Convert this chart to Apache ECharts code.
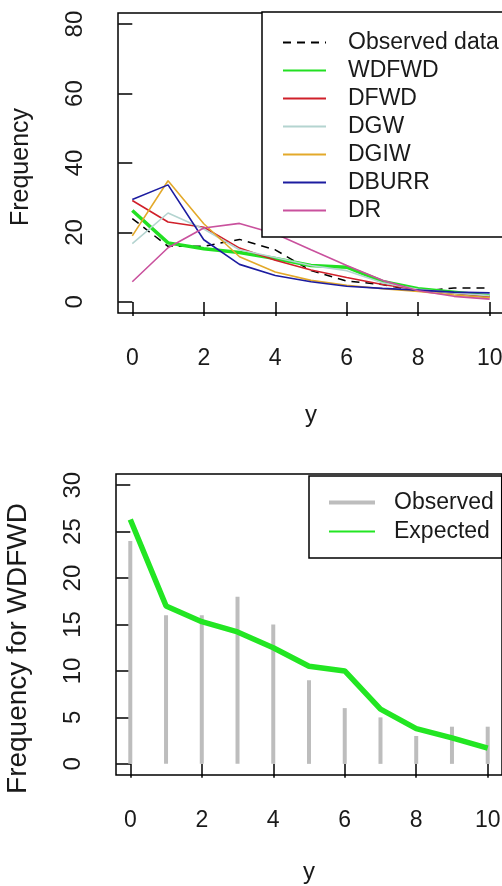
<!DOCTYPE html>
<html>
<head>
<meta charset="utf-8">
<script src="https://cdn.jsdelivr.net/npm/echarts@6/dist/echarts.min.js"></script>
<style>
html,body{margin:0;padding:0;background:#fff;}
#chart{width:502px;height:886px;}
</style>
</head>
<body>
<div id="chart"></div>
<script>
// ---- data ----
const yValues = [0,1,2,3,4,5,6,7,8,9,10];
const observed = [24,16,16,18,15,9,6,5,3,4,4];
const WDFWD = [26.3,17.0,15.3,14.2,12.5,10.5,10.0,5.9,3.8,2.8,1.7];
const DFWD  = [29.2,23.0,21.5,15.5,12.0,9.2,7.0,5.0,3.5,2.5,1.6];
const DGW   = [16.8,25.6,21.0,15.0,12.8,10.5,9.0,5.5,3.6,2.6,1.8];
const DGIW  = [19.0,34.9,22.5,13.0,8.6,6.2,4.8,3.8,3.0,2.0,1.2];
const DBURR = [29.5,33.7,17.9,10.8,7.6,5.8,4.5,3.9,3.4,2.8,2.6];
const DR    = [5.8,15.6,21.3,22.6,19.6,15.0,10.5,6.2,3.2,1.6,0.8];
const xTicks = [0,2,4,6,8,10];
const yTicksTop = [0,20,40,60,80];
const yTicksBottom = [0,5,10,15,20,25,30];

const pairs = arr => yValues.map((x,i)=>[x,arr[i]]);
const FONT = '"Liberation Sans", Arial, sans-serif';
const txt = '#1a1a1a';

function xAxisCfg(gridIndex,nameGap){
  return {
    type:'value', gridIndex, min:-0.4, max:10.4,
    name:'y', nameLocation:'middle', nameGap,
    nameTextStyle:{fontFamily:FONT,fontSize:24,color:txt},
    axisLine:{show:false},
    splitLine:{show:false},
    axisTick:{show:true,inside:false,length:14,customValues:xTicks,lineStyle:{color:'#000',width:1.5}},
    axisLabel:{customValues:xTicks,margin:34,fontFamily:FONT,fontSize:23,color:txt}
  };
}
function yAxisCfg(gridIndex,min,max,ticks,name,nameSize,namePad){
  return {
    type:'value', gridIndex, min, max,
    name, nameLocation:'middle', nameGap:84,
    nameTextStyle:{fontFamily:FONT,fontSize:nameSize,color:txt,padding:[0,namePad,0,0]},
    axisLine:{show:false},
    splitLine:{show:false},
    axisTick:{show:true,inside:false,length:14,customValues:ticks,lineStyle:{color:'#000',width:1.5}},
    axisLabel:{customValues:ticks,rotate:90,margin:31,fontFamily:FONT,fontSize:24,color:txt}
  };
}

const lineSeries = (name,data,color,width,type) => ({
  name, type:'line', xAxisIndex:0, yAxisIndex:0,
  data:pairs(data), symbol:'none', animation:false,
  lineStyle:{color,width,type:type||'solid'}, itemStyle:{color}
});

const option = {
  animation:false,
  backgroundColor:'#fff',
  grid:[
    {left:118,top:13,width:386,height:300,show:true,borderColor:'#000',borderWidth:1.5,backgroundColor:'transparent',outerBoundsMode:'none',containLabel:false},
    {left:116,top:474,width:386,height:301,show:true,borderColor:'#000',borderWidth:1.5,backgroundColor:'transparent',outerBoundsMode:'none',containLabel:false}
  ],
  xAxis:[xAxisCfg(0,90), xAxisCfg(1,85)],
  yAxis:[
    yAxisCfg(0,-3.2,83.2,yTicksTop,'Frequency',25,8),
    yAxisCfg(1,-1.2,31.2,yTicksBottom,'Frequency for WDFWD',28,48)
  ],
  legend:[
    {
      orient:'vertical', left:262, top:12,
      padding:[19,4,15,20], itemGap:5, itemWidth:43, itemHeight:14,
      borderColor:'#000', borderWidth:1.5, backgroundColor:'#fff',
      itemStyle:{opacity:0},
      textStyle:{fontFamily:FONT,fontSize:23,color:txt,lineHeight:23,padding:[0,0,0,17]},
      data:['Observed data','WDFWD','DFWD','DGW','DGIW','DBURR','DR']
    },
    {
      orient:'vertical', left:309, top:476,
      padding:[15,8,15,19], itemGap:6, itemWidth:46, itemHeight:14,
      borderColor:'#000', borderWidth:1.5, backgroundColor:'#fff',
      textStyle:{fontFamily:FONT,fontSize:23,color:txt,lineHeight:23,padding:[0,0,0,14]},
      data:[
        {name:'Observed',icon:'path://M0,0H46V4H0Z'},
        {name:'Expected',itemStyle:{opacity:0}}
      ]
    }
  ],
  series:[
    lineSeries('Observed data',observed,'#000',1.5,[8,6]),
    lineSeries('WDFWD',WDFWD,'#22e022',3.5),
    lineSeries('DFWD',DFWD,'#d0202a',1.6),
    lineSeries('DGW',DGW,'#b4d4d0',1.6),
    lineSeries('DGIW',DGIW,'#e3a92a',1.6),
    lineSeries('DBURR',DBURR,'#1c1ca0',1.6),
    lineSeries('DR',DR,'#c9519d',1.6),
    {
      name:'Observed', type:'bar', xAxisIndex:1, yAxisIndex:1,
      data:pairs(observed), barWidth:4, itemStyle:{color:'#bdbdbd'}
    },
    {
      name:'Expected', type:'line', xAxisIndex:1, yAxisIndex:1,
      data:pairs(WDFWD), symbol:'none',
      lineStyle:{color:'#22e622',width:5.5}, itemStyle:{color:'#22e622'}
    }
  ]
};

const chart = echarts.init(document.getElementById('chart'),null,{renderer:'canvas'});
chart.setOption(option);
</script>
</body>
</html>
